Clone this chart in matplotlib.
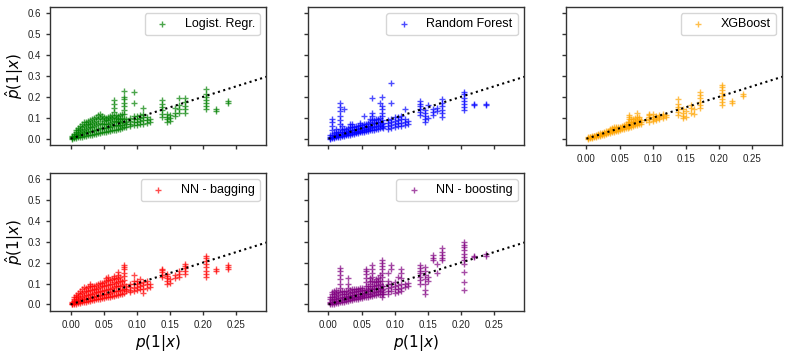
# Calibration plots: predicted vs true probability, five models

import matplotlib
matplotlib.use("Agg")
import matplotlib.pyplot as plt

plt.rcParams["font.family"] = ["Liberation Sans", "DejaVu Sans"]

# true p(1|x) columns (shared by all models)
p_cols = [0.002, 0.005, 0.008, 0.011, 0.014, 0.017, 0.020, 0.023, 0.026, 0.029,
          0.032, 0.035, 0.038, 0.041, 0.044, 0.047, 0.050, 0.053, 0.056, 0.059,
          0.062, 0.065, 0.068, 0.071, 0.074, 0.077, 0.080, 0.083,
          0.090, 0.095, 0.100, 0.105, 0.110, 0.115, 0.120,
          0.138, 0.146, 0.150, 0.158, 0.163, 0.172, 0.204, 0.219, 0.237]

# predicted values for each column
lr_pred = [
    [0.000, 0.004, 0.008, 0.012], [0.002, 0.008, 0.015, 0.022],
    [0.004, 0.012, 0.022, 0.032, 0.040], [0.006, 0.016, 0.028, 0.040, 0.052],
    [0.008, 0.020, 0.034, 0.048, 0.062], [0.010, 0.024, 0.038, 0.054, 0.070],
    [0.012, 0.026, 0.042, 0.060, 0.078], [0.014, 0.030, 0.046, 0.064, 0.082],
    [0.016, 0.032, 0.050, 0.068, 0.086], [0.018, 0.036, 0.054, 0.072, 0.090],
    [0.020, 0.038, 0.058, 0.076, 0.094], [0.022, 0.042, 0.062, 0.080, 0.100],
    [0.024, 0.044, 0.066, 0.086, 0.106], [0.026, 0.048, 0.070, 0.092, 0.114],
    [0.028, 0.050, 0.074, 0.098, 0.120], [0.030, 0.052, 0.072, 0.092, 0.110],
    [0.032, 0.050, 0.068, 0.086, 0.102], [0.034, 0.052, 0.070, 0.088, 0.100],
    [0.036, 0.054, 0.072, 0.090, 0.104], [0.038, 0.056, 0.076, 0.094, 0.108],
    [0.040, 0.060, 0.080, 0.098, 0.112],
    [0.042, 0.064, 0.086, 0.106, 0.126, 0.146, 0.166, 0.186],
    [0.044, 0.064, 0.084, 0.100, 0.114], [0.046, 0.062, 0.078, 0.094, 0.108],
    [0.048, 0.064, 0.080, 0.096, 0.112], [0.050, 0.066, 0.084, 0.100, 0.118],
    [0.054, 0.076, 0.096, 0.116, 0.136, 0.156, 0.172, 0.188, 0.200, 0.230],
    [0.056, 0.068, 0.080, 0.094],
    [0.060, 0.072, 0.086, 0.100], [0.064, 0.078, 0.092, 0.108, 0.170, 0.222],
    [0.066, 0.080, 0.096, 0.110], [0.070, 0.084, 0.098, 0.112],
    [0.072, 0.088, 0.104, 0.118, 0.146], [0.076, 0.090, 0.106], [0.082, 0.096],
    [0.104, 0.120, 0.136, 0.150, 0.166, 0.186], [0.080, 0.092, 0.104, 0.116],
    [0.084, 0.098, 0.112], [0.108, 0.124, 0.146], [0.122, 0.140, 0.160, 0.192],
    [0.124, 0.140, 0.156, 0.174, 0.196],
    [0.140, 0.156, 0.170, 0.186, 0.200, 0.214, 0.238],
    [0.132, 0.140], [0.170, 0.180],
]

rf_pred = [
    [0.000, 0.005, 0.010, 0.016], [0.002, 0.010, 0.020, 0.040, 0.060, 0.080, 0.095],
    [0.004, 0.010, 0.018, 0.026], [0.006, 0.012, 0.020, 0.030, 0.045],
    [0.008, 0.014, 0.024, 0.034],
    [0.010, 0.028, 0.048, 0.070, 0.090, 0.110, 0.130, 0.150, 0.170],
    [0.012, 0.020, 0.030, 0.042, 0.060], [0.014, 0.022, 0.032, 0.046, 0.143],
    [0.016, 0.024, 0.034, 0.048], [0.018, 0.026, 0.036, 0.050],
    [0.020, 0.028, 0.040, 0.054, 0.068], [0.022, 0.030, 0.042, 0.056, 0.070],
    [0.024, 0.032, 0.044, 0.058], [0.026, 0.034, 0.046, 0.060],
    [0.028, 0.036, 0.048, 0.062], [0.030, 0.038, 0.050, 0.064, 0.076],
    [0.032, 0.040, 0.052, 0.066], [0.034, 0.044, 0.056, 0.070, 0.110],
    [0.036, 0.046, 0.058, 0.072], [0.038, 0.048, 0.060, 0.076],
    [0.040, 0.050, 0.062, 0.078, 0.092],
    [0.042, 0.056, 0.072, 0.090, 0.108, 0.124, 0.194],
    [0.044, 0.058, 0.074, 0.090], [0.046, 0.060, 0.076, 0.092],
    [0.048, 0.062, 0.078, 0.096], [0.050, 0.066, 0.082, 0.100, 0.170],
    [0.054, 0.072, 0.090, 0.108, 0.124, 0.140, 0.154, 0.198],
    [0.050, 0.062, 0.076],
    [0.048, 0.060, 0.074, 0.088], [0.050, 0.064, 0.080, 0.096, 0.172, 0.266],
    [0.056, 0.070, 0.086, 0.104], [0.060, 0.074, 0.090, 0.106],
    [0.062, 0.076, 0.092, 0.110], [0.064, 0.080, 0.096, 0.140], [0.070, 0.086],
    [0.114, 0.128, 0.142, 0.156, 0.168, 0.178], [0.082, 0.094, 0.108, 0.122, 0.138],
    [0.100, 0.160], [0.114, 0.126, 0.140], [0.130, 0.146],
    [0.106, 0.122, 0.138, 0.154, 0.170, 0.189],
    [0.138, 0.152, 0.166, 0.180, 0.196, 0.212, 0.225],
    [0.160, 0.165], [0.160, 0.165],
]

xgb_pred = [
    [0.000, 0.003, 0.006], [0.003, 0.006, 0.009], [0.005, 0.008, 0.012],
    [0.008, 0.011, 0.015], [0.010, 0.014, 0.018], [0.013, 0.017, 0.021],
    [0.015, 0.020, 0.025], [0.018, 0.023, 0.028], [0.020, 0.026, 0.032],
    [0.022, 0.029, 0.035], [0.025, 0.032, 0.039], [0.028, 0.035, 0.042, 0.048],
    [0.030, 0.038, 0.045, 0.052], [0.033, 0.041, 0.048, 0.054],
    [0.036, 0.044, 0.051, 0.057], [0.039, 0.047, 0.054], [0.042, 0.050, 0.057],
    [0.045, 0.053, 0.060], [0.047, 0.056, 0.064], [0.050, 0.059, 0.068],
    [0.053, 0.062, 0.072, 0.082], [0.056, 0.066, 0.078, 0.092, 0.104, 0.113],
    [0.058, 0.068, 0.080, 0.094], [0.061, 0.071, 0.082, 0.094],
    [0.064, 0.074, 0.086, 0.098], [0.066, 0.077, 0.090, 0.104, 0.121],
    [0.068, 0.080, 0.092, 0.104], [0.070, 0.080, 0.090],
    [0.088], [0.082, 0.092, 0.102, 0.112, 0.120], [0.086, 0.096, 0.106, 0.116],
    [0.090, 0.100, 0.110], [0.094, 0.104, 0.114], [0.098, 0.108, 0.118],
    [0.104, 0.114],
    [0.114, 0.126, 0.140, 0.152, 0.166, 0.190], [0.100, 0.110, 0.122, 0.140],
    [0.104, 0.132], [0.122, 0.148, 0.160], [0.120, 0.140],
    [0.146, 0.160, 0.176, 0.192, 0.210, 0.222],
    [0.160, 0.176, 0.190, 0.204, 0.218, 0.234, 0.248, 0.256],
    [0.170, 0.178], [0.206, 0.214],
]

bag_pred = [
    [0.000, 0.004, 0.008, 0.014], [0.002, 0.008, 0.016, 0.026, 0.036],
    [0.004, 0.012, 0.022, 0.034, 0.046], [0.006, 0.016, 0.028, 0.042, 0.056],
    [0.008, 0.018, 0.032, 0.048, 0.066], [0.010, 0.022, 0.036, 0.054, 0.074],
    [0.012, 0.024, 0.040, 0.060, 0.082], [0.014, 0.028, 0.044, 0.062, 0.080],
    [0.016, 0.030, 0.046, 0.064, 0.084], [0.018, 0.032, 0.050, 0.068, 0.086, 0.096],
    [0.020, 0.034, 0.052, 0.070, 0.088], [0.022, 0.036, 0.054, 0.072, 0.090],
    [0.024, 0.040, 0.058, 0.076, 0.094], [0.026, 0.042, 0.060, 0.080, 0.098],
    [0.028, 0.044, 0.064, 0.084, 0.102], [0.030, 0.046, 0.066, 0.086, 0.104],
    [0.032, 0.048, 0.068, 0.088, 0.106], [0.034, 0.050, 0.070, 0.092, 0.112, 0.128],
    [0.036, 0.052, 0.072, 0.094, 0.116, 0.130], [0.038, 0.054, 0.076, 0.098, 0.118],
    [0.040, 0.058, 0.080, 0.100, 0.120], [0.042, 0.062, 0.084, 0.106, 0.124, 0.134],
    [0.044, 0.064, 0.086, 0.104, 0.122],
    [0.046, 0.066, 0.088, 0.108, 0.126, 0.140, 0.156],
    [0.048, 0.068, 0.090, 0.110, 0.130], [0.050, 0.070, 0.092, 0.112],
    [0.056, 0.076, 0.096, 0.116, 0.136, 0.152, 0.168, 0.180, 0.190],
    [0.062, 0.076, 0.090],
    [0.058, 0.070, 0.084, 0.098], [0.064, 0.080, 0.096, 0.112, 0.143],
    [0.068, 0.084, 0.100, 0.114], [0.072, 0.088, 0.104, 0.120],
    [0.056, 0.076, 0.092, 0.108], [0.080, 0.096, 0.112], [0.084, 0.100],
    [0.130, 0.142, 0.154, 0.164, 0.171], [0.100, 0.112, 0.124, 0.136, 0.147],
    [0.104, 0.120], [0.128, 0.142], [0.130, 0.146, 0.162],
    [0.147, 0.160, 0.172, 0.184, 0.195],
    [0.130, 0.146, 0.162, 0.178, 0.194, 0.208, 0.220, 0.229],
    [0.162, 0.168], [0.170, 0.180, 0.186],
]

boost_pred = [
    [0.000, 0.006, 0.014, 0.024, 0.036], [0.002, 0.010, 0.020, 0.034, 0.048, 0.060],
    [0.004, 0.012, 0.024, 0.038, 0.052, 0.064], [0.006, 0.016, 0.028, 0.042, 0.056, 0.068],
    [0.008, 0.018, 0.030, 0.044, 0.058],
    [0.010, 0.030, 0.060, 0.080, 0.100, 0.120, 0.140, 0.160, 0.172],
    [0.012, 0.022, 0.034, 0.048, 0.062], [0.014, 0.024, 0.036, 0.050, 0.064],
    [0.016, 0.026, 0.038, 0.052, 0.066],
    [0.018, 0.030, 0.042, 0.060, 0.080, 0.100, 0.124],
    [0.020, 0.030, 0.042, 0.056, 0.070], [0.022, 0.032, 0.044, 0.058, 0.072],
    [0.024, 0.034, 0.046, 0.060, 0.072], [0.026, 0.036, 0.048, 0.062, 0.074],
    [0.028, 0.038, 0.050, 0.064, 0.076], [0.030, 0.040, 0.052, 0.066, 0.078],
    [0.032, 0.042, 0.054, 0.068, 0.080], [0.034, 0.044, 0.056, 0.070],
    [0.036, 0.050, 0.068, 0.086, 0.106, 0.126, 0.146, 0.160, 0.170],
    [0.038, 0.050, 0.062, 0.076, 0.090],
    [0.040, 0.052, 0.066, 0.080, 0.096, 0.110, 0.124],
    [0.042, 0.056, 0.072, 0.090, 0.110, 0.130, 0.150, 0.170, 0.186],
    [0.044, 0.058, 0.074, 0.090, 0.106], [0.046, 0.060, 0.076, 0.092, 0.108, 0.120],
    [0.048, 0.062, 0.078, 0.094, 0.110, 0.126], [0.050, 0.064, 0.080, 0.096, 0.112, 0.140],
    [0.035, 0.052, 0.070, 0.090, 0.110, 0.130, 0.150, 0.168, 0.184, 0.196, 0.210],
    [0.048, 0.060, 0.074, 0.090],
    [0.050, 0.064, 0.080, 0.096, 0.112, 0.150], [0.066, 0.082, 0.098, 0.170, 0.186],
    [0.056, 0.072, 0.090, 0.108], [0.060, 0.076, 0.094, 0.130],
    [0.064, 0.080, 0.100, 0.124, 0.150, 0.170], [0.084, 0.100], [0.090, 0.104],
    [0.100, 0.116, 0.132, 0.148, 0.162, 0.176, 0.186],
    [0.050, 0.070, 0.100, 0.120, 0.140, 0.160, 0.180],
    [0.110, 0.130], [0.210, 0.224, 0.238], [0.150, 0.195],
    [0.210, 0.224, 0.238, 0.252, 0.268],
    [0.067, 0.106, 0.154, 0.194, 0.210, 0.226, 0.242, 0.258, 0.274, 0.286, 0.297],
    [0.226, 0.233], [0.230, 0.240],
]

model_names = ["Logist. Regr.", "Random Forest", "XGBoost", "NN - bagging", "NN - boosting"]
model_colors = ["green", "blue", "orange", "red", "purple"]
model_preds = [lr_pred, rf_pred, xgb_pred, bag_pred, boost_pred]


def flatten(cols, preds):
    xs, ys = [], []
    for p, col in zip(cols, preds):
        xs += [p] * len(col)
        ys += col
    return xs, ys


fig, axes = plt.subplots(2, 3, figsize=(7.89, 3.55), dpi=100, sharex=True, sharey=True)
fig.subplots_adjust(left=0.0634, right=0.991, bottom=0.124, top=0.980,
                    wspace=0.194, hspace=0.2)

spine_col = "#333333"
for i, ax in enumerate(axes.flat[:5]):
    xs, ys = flatten(p_cols, model_preds[i])
    ax.scatter(xs, ys, marker="+", s=16, linewidths=1.0, alpha=0.7,
               color=model_colors[i], label=model_names[i])
    ax.plot([0, 0.3], [0, 0.3], ":", color="black", lw=1.5)
    ax.legend(loc="upper right", fontsize=9)
    for s in ax.spines.values():
        s.set_color(spine_col)
        s.set_linewidth(1.0)
    ax.tick_params(colors=spine_col, labelcolor="#222222", labelsize=7,
                   length=3, width=1)

axes[1, 2].set_visible(False)
axes[0, 2].tick_params(labelbottom=True)

ax0 = axes[0, 0]
ax0.set_xlim(-0.031, 0.295)
ax0.set_ylim(-0.031, 0.628)
ax0.set_xticks([0.0, 0.05, 0.10, 0.15, 0.20, 0.25])
ax0.set_yticks([0.0, 0.1, 0.2, 0.3, 0.4, 0.5, 0.6])
ax0.xaxis.set_major_formatter(matplotlib.ticker.FormatStrFormatter("%.2f"))
ax0.yaxis.set_major_formatter(matplotlib.ticker.FormatStrFormatter("%.1f"))

for ax in axes[:, 0]:
    ax.set_ylabel(r"$\hat{p}(1|x)$", fontsize=11, labelpad=1)
for ax in axes[1, :2]:
    ax.set_xlabel(r"$p(1|x)$", fontsize=11, labelpad=2)

fig.savefig("out.png", dpi=100)
